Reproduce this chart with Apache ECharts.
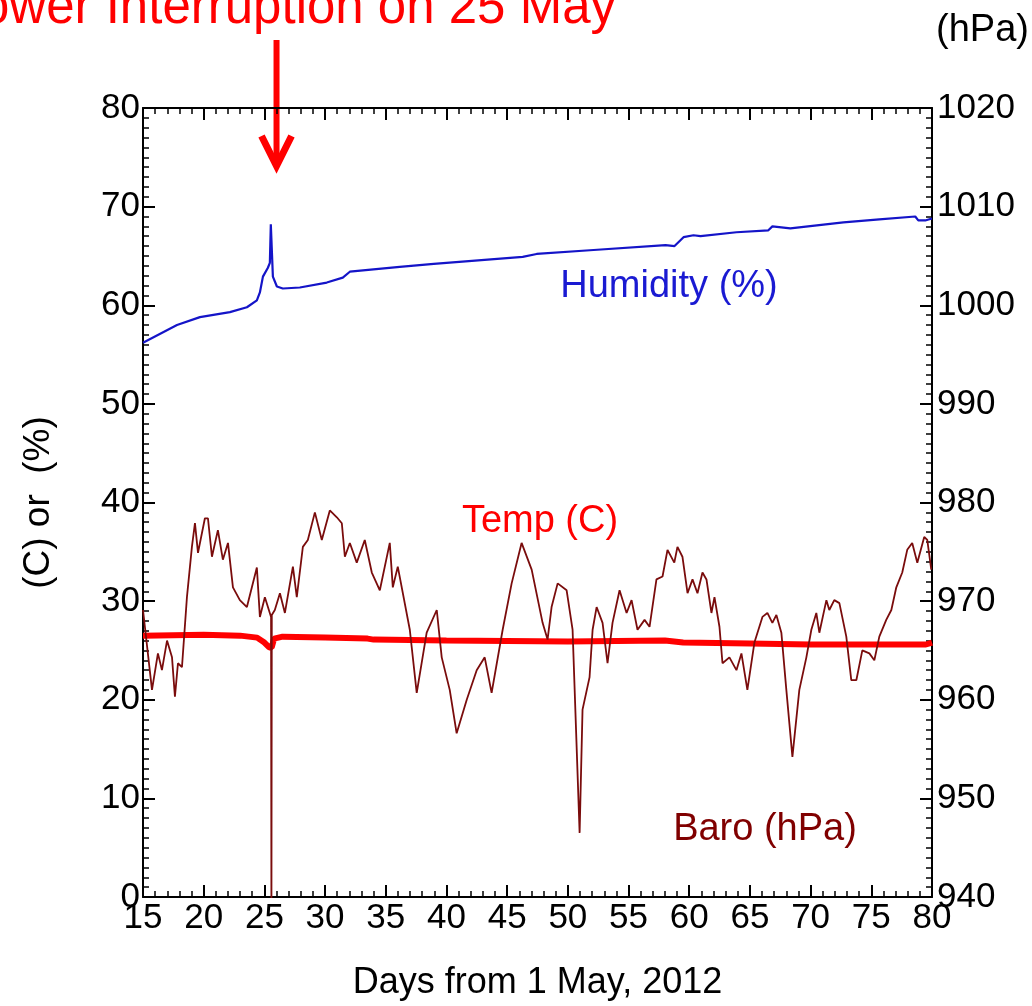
<!DOCTYPE html>
<html>
<head>
<meta charset="utf-8">
<script src="https://cdn.jsdelivr.net/npm/echarts@6/dist/echarts.min.js"></script>
<style>
html,body{margin:0;padding:0;background:#fff;}
#chart{width:1032px;height:1006px;}
</style>
</head>
<body>
<div id="chart"></div>
<script>
// ---- Data ----
const humidityDays = [15.0, 17.8, 19.69, 22.16, 23.56, 24.38, 24.63, 24.88, 25.29, 25.45, 25.53, 25.70, 26.03, 26.52, 27.92, 30.14, 31.46, 32.04, 36.15, 38.95, 46.28, 47.43, 52.12, 58.05, 58.79, 59.53, 60.35, 60.93, 63.89, 66.52, 66.85, 68.33, 72.70, 75.66, 78.62, 78.87, 79.44, 80.0];
const humidityPct  = [56.2, 58.0, 58.8, 59.3, 59.8, 60.5, 61.3, 62.9, 63.8, 64.3, 68.2, 62.9, 61.9, 61.7, 61.8, 62.3, 62.8, 63.4, 63.9, 64.2, 64.9, 65.2, 65.6, 66.1, 66.0, 66.9, 67.1, 67.0, 67.4, 67.6, 68.0, 67.8, 68.4, 68.7, 69.0, 68.6, 68.6, 68.8];

const tempDays = [15.0, 20.0, 23.0, 24.4, 25.0, 25.4, 25.6, 25.8, 26.5, 30.0, 33.5, 34.0, 40.0, 50.0, 58.0, 59.5, 65.0, 70.0, 75.0, 79.5, 80.0];
const tempC    = [26.5, 26.6, 26.5, 26.3, 25.8, 25.3, 25.3, 26.2, 26.4, 26.3, 26.2, 26.1, 26.0, 25.9, 26.0, 25.8, 25.7, 25.6, 25.6, 25.6, 25.8];

const baroDays = [15.0, 15.74, 16.23, 16.56, 16.98, 17.39, 17.63, 17.88, 18.21, 18.62, 19.03, 19.28, 19.53, 20.10, 20.35, 20.68, 21.17, 21.58, 22.00, 22.41, 22.98, 23.56, 23.97, 24.38, 24.63, 25.04, 25.55, 25.58, 25.61, 25.86, 26.28, 26.69, 27.35, 27.67, 28.17, 28.58, 29.16, 29.73, 30.39, 30.97, 31.38, 31.63, 32.04, 32.61, 33.27, 33.85, 34.51, 35.33, 35.58, 35.99, 36.98, 37.55, 38.37, 39.20, 39.61, 40.27, 40.84, 41.67, 42.49, 43.15, 43.72, 44.63, 45.37, 46.19, 47.02, 47.92, 48.33, 48.66, 49.16, 49.90, 50.39, 50.97, 51.21, 51.79, 52.04, 52.37, 52.86, 53.27, 53.68, 54.26, 54.84, 55.25, 55.74, 56.32, 56.73, 57.30, 57.80, 58.21, 58.77, 59.03, 59.44, 59.86, 60.27, 60.68, 61.09, 61.42, 61.83, 62.08, 62.49, 62.74, 63.31, 63.89, 64.30, 64.79, 65.37, 66.03, 66.44, 66.85, 67.18, 67.59, 68.00, 68.50, 69.07, 69.65, 70.06, 70.47, 70.72, 71.30, 71.54, 71.95, 72.37, 72.94, 73.35, 73.77, 74.26, 74.84, 75.25, 75.66, 76.23, 76.65, 77.06, 77.55, 77.96, 78.37, 78.79, 79.36, 79.61, 79.94];
const baroHpa  = [969.1, 961.0, 964.7, 963.0, 966.0, 964.3, 960.3, 963.7, 963.3, 970.4, 975.5, 977.9, 974.9, 978.4, 978.4, 974.5, 977.2, 974.2, 975.9, 971.4, 970.1, 969.4, 971.4, 973.4, 968.4, 970.4, 968.4, 938.0, 968.6, 969.1, 970.8, 968.8, 973.5, 970.4, 975.5, 976.2, 979.0, 976.2, 979.2, 978.5, 977.9, 974.5, 975.9, 973.9, 976.2, 972.9, 971.1, 975.9, 971.4, 973.5, 967.1, 960.7, 966.8, 969.1, 964.3, 961.0, 956.6, 960.0, 963.0, 964.3, 960.7, 967.1, 971.8, 975.9, 973.2, 967.8, 966.1, 969.4, 971.8, 971.1, 967.1, 946.5, 959.0, 962.3, 967.1, 969.4, 967.8, 963.7, 967.8, 971.1, 968.8, 970.1, 967.1, 968.1, 967.4, 972.2, 972.5, 975.2, 973.9, 975.5, 974.5, 970.8, 972.2, 970.8, 972.9, 972.2, 968.8, 970.4, 967.4, 963.7, 964.3, 963.0, 964.7, 961.0, 965.8, 968.4, 968.8, 967.8, 968.6, 966.8, 961.0, 954.2, 961.0, 964.3, 967.1, 968.8, 966.8, 970.1, 969.1, 970.1, 969.8, 966.4, 962.0, 962.0, 965.0, 964.7, 964.0, 966.4, 968.1, 969.1, 971.4, 972.9, 975.2, 975.9, 973.9, 976.5, 976.2, 973.2];

const powerCutDay = 26.0;

const zip = (a, b) => a.map((v, i) => [v, b[i]]);

const FONT = '"Liberation Sans", Arial, sans-serif';
const axisCommon = {
  axisLine: { show: true, onZero: false, lineStyle: { color: '#000', width: 2 } },
  axisTick: { show: true, inside: true, length: 12, lineStyle: { color: '#000', width: 2 } },
  minorTick: { show: true, length: 6, lineStyle: { color: '#000', width: 1.5 } },
  splitLine: { show: false },
  minorSplitLine: { show: false }
};
const labelStyle = { color: '#000', fontSize: 35, fontFamily: FONT, formatter: v => String(v) };

const chart = echarts.init(document.getElementById('chart'), null, { renderer: 'canvas' });

const option = {
  animation: false,
  backgroundColor: '#fff',
  grid: { left: 143, right: 100, top: 108, bottom: 109, containLabel: false },
  xAxis: [
    Object.assign({}, axisCommon, {
      type: 'value', min: 15, max: 80, interval: 5, position: 'bottom',
      minorTick: Object.assign({}, axisCommon.minorTick, { splitNumber: 5 }),
      axisLabel: Object.assign({}, labelStyle, { margin: 4 }),
      name: 'Days from 1 May, 2012', nameLocation: 'middle', nameGap: 68,
      nameTextStyle: { color: '#000', fontSize: 36, fontFamily: FONT }
    }),
    Object.assign({}, axisCommon, {
      type: 'value', min: 15, max: 80, interval: 5, position: 'top',
      minorTick: Object.assign({}, axisCommon.minorTick, { splitNumber: 5 }),
      axisLabel: { show: false }
    })
  ],
  yAxis: [
    Object.assign({}, axisCommon, {
      type: 'value', min: 0, max: 80, interval: 10, position: 'left',
      minorTick: Object.assign({}, axisCommon.minorTick, { splitNumber: 10 }),
      axisLabel: Object.assign({}, labelStyle, { margin: 3 }),
      name: '(C) or  (%)', nameLocation: 'middle', nameGap: 86, nameRotate: 90,
      nameTextStyle: { color: '#000', fontSize: 37, fontFamily: FONT }
    }),
    Object.assign({}, axisCommon, {
      type: 'value', min: 940, max: 1020, interval: 10, position: 'right',
      minorTick: Object.assign({}, axisCommon.minorTick, { splitNumber: 10 }),
      axisLabel: Object.assign({}, labelStyle, { margin: 5 })
    })
  ],
  series: [
    {
      name: 'Temp (C)', type: 'line', xAxisIndex: 0, yAxisIndex: 0,
      data: zip(tempDays, tempC), showSymbol: false, symbol: 'none', clip: true,
      lineStyle: { color: '#ff0000', width: 6 }, z: 2
    },
    {
      name: 'Humidity (%)', type: 'line', xAxisIndex: 0, yAxisIndex: 0,
      data: zip(humidityDays, humidityPct), showSymbol: false, symbol: 'none', clip: true,
      lineStyle: { color: '#1414c8', width: 2.2 }, z: 3
    },
    {
      name: 'Baro (hPa)', type: 'line', xAxisIndex: 0, yAxisIndex: 1,
      data: zip(baroDays, baroHpa), showSymbol: false, symbol: 'none', clip: true,
      lineStyle: { color: '#7a0c0c', width: 1.8 }, z: 4
    }
  ]
};
chart.setOption(option);

// Annotations (placed relative to the axes)
const arrowX = chart.convertToPixel({ xAxisIndex: 0 }, powerCutDay);
const tipY = 168;
chart.setOption({
  graphic: [
    { type: 'text', style: { text: 'Power Interruption on 25 May', x: 616, y: 34, align: 'right', verticalAlign: 'bottom', fill: '#ff0000', font: '51px ' + FONT } },
    { type: 'text', style: { text: '(hPa)', x: 1029, y: 31, align: 'right', verticalAlign: 'middle', fill: '#000', font: '38px ' + FONT } },
    { type: 'line', shape: { x1: arrowX, y1: 40, x2: arrowX, y2: tipY - 4 }, style: { stroke: '#ff0000', lineWidth: 6 } },
    { type: 'polyline', shape: { points: [[arrowX - 15, tipY - 32], [arrowX, tipY - 2], [arrowX + 15, tipY - 32]] }, style: { stroke: '#ff0000', lineWidth: 7, fill: null, lineJoin: 'miter' } },
    { type: 'text', style: { text: 'Humidity (%)', x: 669, y: 287, align: 'center', verticalAlign: 'middle', fill: '#1a1ad2', font: '38px ' + FONT } },
    { type: 'text', style: { text: 'Temp (C)', x: 540, y: 522, align: 'center', verticalAlign: 'middle', fill: '#ff0000', font: '38px ' + FONT } },
    { type: 'text', style: { text: 'Baro (hPa)', x: 765, y: 830, align: 'center', verticalAlign: 'middle', fill: '#800000', font: '38px ' + FONT } }
  ]
});
</script>
</body>
</html>
